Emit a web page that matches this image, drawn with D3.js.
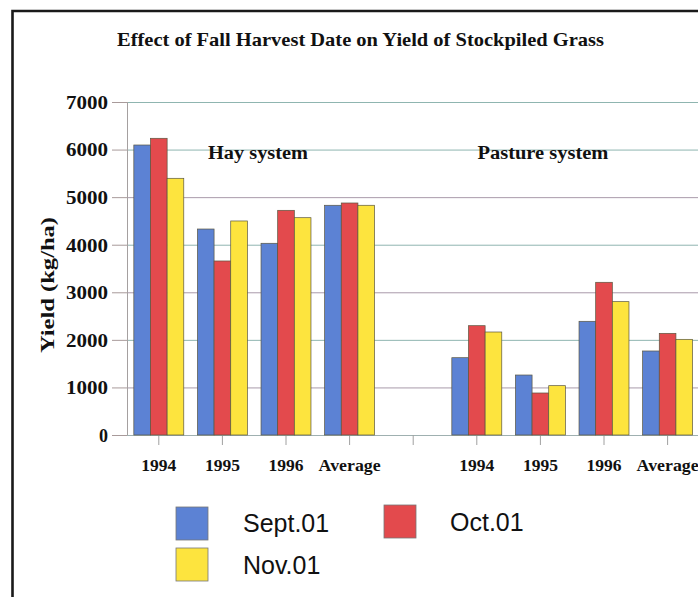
<!DOCTYPE html>
<html>
<head>
<meta charset="utf-8">
<script src="https://cdn.jsdelivr.net/npm/d3@7"></script>
<style>
  html, body { margin: 0; padding: 0; background: #fff; }
  svg { display: block; }
</style>
</head>
<body>
<svg id="chart" width="698" height="597"></svg>
<script>
// ---- Data ----
const categories = ["1994", "1995", "1996", "Average", "", "1994", "1995", "1996", "Average"];
const seriesNames = ["Sept.01", "Oct.01", "Nov.01"];
const sept = [6096, 4330, 4030, 4829, null, 1625, 1261, 2390, 1766];
const oct  = [6237, 3658, 4723, 4877, null, 2298,  883, 3210, 2137];
const nov  = [5396, 4499, 4568, 4829, null, 2165, 1037, 2803, 2011];
const yTicks = [0, 1000, 2000, 3000, 4000, 5000, 6000, 7000];
const groupLabels = ["Hay system", "Pasture system"];
const groupCenters = [2.06, 6.54];   // in category-slot units
const colors = ["#5c82d4", "#e34a4d", "#fde43e"];
const title = "Effect of Fall Harvest Date on Yield of Stockpiled Grass";
const yTitle = "Yield (kg/ha)";

const seriesValues = [sept, oct, nov];

const svg = d3.select("#chart");
const serif = "'Liberation Serif', 'Times New Roman', serif";
const sans = "'Liberation Sans', Arial, sans-serif";

// Frame (scan border)
svg.append("path")
  .attr("d", "M12.5,597 L12.5,11 L698,11")
  .attr("fill", "none").attr("stroke", "#1a1a1a").attr("stroke-width", 2.6);

// Scales
const plotLeft = 127, plotRight = 699.4, plotTop = 102, plotBottom = 435;
const idx = categories.map((d, i) => i);
const x = d3.scaleBand().domain(idx).range([plotLeft, plotRight]).paddingInner(0).paddingOuter(0);
const xi = d3.scaleBand().domain(seriesNames).range([0, x.bandwidth()]).paddingInner(0).paddingOuter(0.41);
const y = d3.scaleLinear().domain([0, 7000]).range([plotBottom, plotTop]);

// Gridlines
const gridColors = ["#8fb5b0", "#a99aaa", "#8fb5b0", "#a99aaa", "#8fb5b0", "#a99aaa", "#8fb5b0", "#8fb5b0"];
svg.append("g").selectAll("line").data(yTicks).join("line")
  .attr("x1", plotLeft).attr("x2", 698)
  .attr("y1", d => y(d) + 0.5).attr("y2", d => y(d) + 0.5)
  .attr("stroke", (d, i) => gridColors[i]).attr("stroke-width", 1);

// Y axis
const yAxis = svg.append("g").attr("transform", `translate(${plotLeft},0)`)
  .call(d3.axisLeft(y).tickValues(yTicks).tickSize(15).tickPadding(4).tickFormat(d3.format("d")));
yAxis.select(".domain").attr("stroke", "#a5a0a0").attr("d", `M0.5,${plotTop}V${plotBottom}`);
yAxis.selectAll(".tick line").attr("stroke", "#a89a9a");
yAxis.selectAll(".tick text")
  .attr("font-family", serif).attr("font-weight", "bold").attr("font-size", 18)
  .attr("fill", "#111").attr("dy", "0.35em")
  .each(function(d) {
    if (d > 0) d3.select(this).attr("textLength", 42).attr("lengthAdjust", "spacingAndGlyphs");
  });

// X axis
const xAxis = svg.append("g").attr("transform", `translate(0,${plotBottom})`)
  .call(d3.axisBottom(x).tickSize(10).tickPadding(15).tickFormat(i => categories[i]));
xAxis.select(".domain").attr("stroke", "#9fb0b0").attr("d", `M${plotLeft},0.5H698`);
xAxis.selectAll(".tick line").attr("stroke", "#a0a0a0");
xAxis.selectAll(".tick text")
  .attr("font-family", serif).attr("font-weight", "bold").attr("font-size", 16)
  .attr("fill", "#111")
  .each(function(i) {
    const t = categories[i];
    if (t === "Average") d3.select(this).attr("textLength", 62).attr("lengthAdjust", "spacingAndGlyphs");
    else if (t) d3.select(this).attr("textLength", 35).attr("lengthAdjust", "spacingAndGlyphs");
  });

// Bars
const barData = [];
idx.forEach(i => seriesNames.forEach((s, k) => {
  const v = seriesValues[k][i];
  if (v != null) barData.push({ i, s, k, v });
}));
svg.append("g").selectAll("rect").data(barData).join("rect")
  .attr("x", d => x(d.i) + xi(d.s))
  .attr("width", xi.bandwidth())
  .attr("y", d => y(d.v))
  .attr("height", d => y(0) - y(d.v))
  .attr("fill", d => colors[d.k])
  .attr("stroke", "#5a5640").attr("stroke-width", 0.7);

// Group labels
svg.append("g").selectAll("text").data(groupLabels).join("text")
  .attr("x", (d, i) => x(0) + groupCenters[i] * x.step())
  .attr("y", 159)
  .attr("text-anchor", "middle")
  .attr("font-family", serif).attr("font-weight", "bold").attr("font-size", 18)
  .attr("fill", "#111")
  .text(d => d)
  .attr("textLength", (d, i) => i === 0 ? 100 : 131)
  .attr("lengthAdjust", "spacingAndGlyphs");

// Title
svg.append("text")
  .attr("x", 360.5).attr("y", 46)
  .attr("text-anchor", "middle")
  .attr("font-family", serif).attr("font-weight", "bold").attr("font-size", 19)
  .attr("fill", "#111")
  .attr("textLength", 487).attr("lengthAdjust", "spacingAndGlyphs")
  .text(title);

// Y title
svg.append("text")
  .attr("transform", "translate(54,285) rotate(-90)")
  .attr("text-anchor", "middle")
  .attr("font-family", serif).attr("font-weight", "bold").attr("font-size", 18)
  .attr("fill", "#111")
  .attr("textLength", 136).attr("lengthAdjust", "spacingAndGlyphs")
  .text(yTitle);

// Legend
const legendPos = [
  { sx: 176, sy: 507, tx: 243, ty: 532 },
  { sx: 384, sy: 505, tx: 450, ty: 531 },
  { sx: 176, sy: 548, tx: 243, ty: 574 }
];
const lg = svg.append("g").selectAll("g").data(seriesNames).join("g");
lg.append("rect")
  .attr("x", (d, k) => legendPos[k].sx).attr("y", (d, k) => legendPos[k].sy)
  .attr("width", 32).attr("height", 33)
  .attr("fill", (d, k) => colors[k])
  .attr("stroke", "#777").attr("stroke-width", 0.8);
lg.append("text")
  .attr("x", (d, k) => legendPos[k].tx).attr("y", (d, k) => legendPos[k].ty)
  .attr("font-family", sans).attr("font-size", 25)
  .attr("fill", "#111")
  .text(d => d);
</script>
</body>
</html>
